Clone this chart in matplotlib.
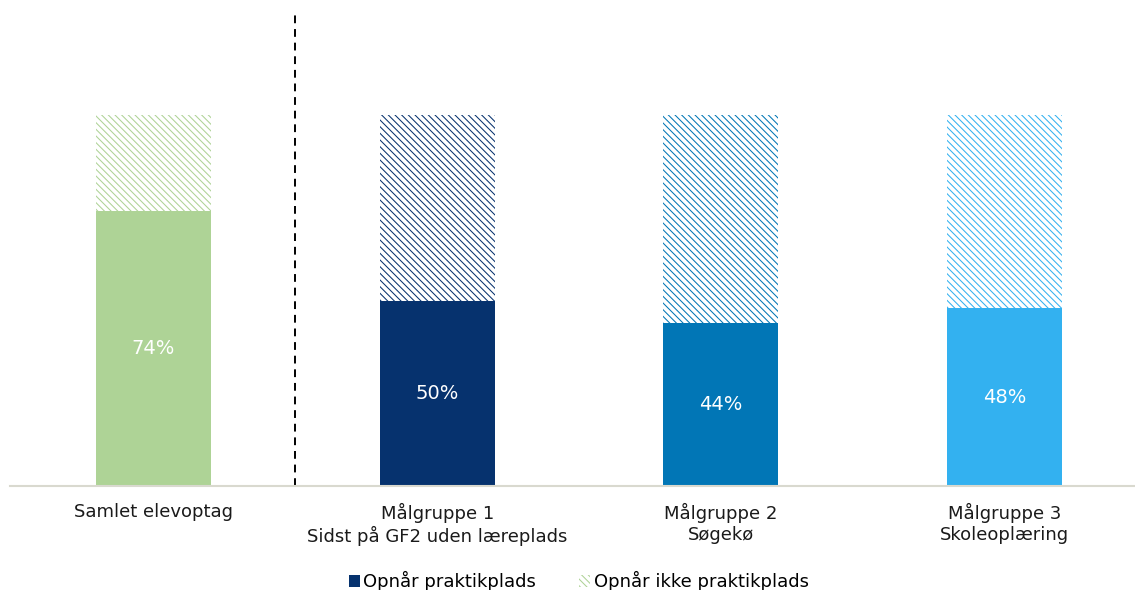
import matplotlib.pyplot as plt
from matplotlib.patches import Patch
import numpy as np

# Data
categories = ['Samlet elevoptag',
              'Målgruppe 1\nSidst på GF2 uden læreplads',
              'Målgruppe 2\nSøgekø',
              'Målgruppe 3\nSkoleoplæring']
opnaar = [0.74, 0.50, 0.44, 0.48]
ikke_opnaar = [0.26, 0.50, 0.56, 0.52]
colors = ['#AED396', '#06326E', '#0176B6', '#33B1F0']

plt.rcParams['font.family'] = ['DejaVu Sans']
plt.rcParams['hatch.linewidth'] = 0.75

hatch = '\\' * 5

fig = plt.figure(figsize=(11.35, 5.9), dpi=100)
ax = fig.add_axes([0.009, 0.176, 0.991, 0.799])

x = np.arange(len(categories))

# Solid part and hatched remainder
ax.bar(x, opnaar, 0.405, color=colors, linewidth=0)
ax.bar(x, ikke_opnaar, 0.405, bottom=opnaar, facecolor='white',
       edgecolor=colors, hatch=hatch, linewidth=0)

# Percentage labels inside the solid bars
for i in range(len(x)):
    ax.text(x[i], opnaar[i] / 2, f'{opnaar[i] * 100:.0f}%', color='white',
            fontsize=14, ha='center', va='center')

# Dashed divider between total and target groups
ax.axvline(0.5, color='black', linestyle=(0, (4, 3)), linewidth=1.4)

ax.set_xlim(-0.505, 3.46)
ax.set_ylim(0, 1.27)
ax.set_xticks(x)
ax.set_xticklabels(categories, fontsize=13, color='#1a1a1a')
ax.tick_params(axis='x', length=0, pad=12)
ax.set_yticks([])
for side in ['top', 'left', 'right']:
    ax.spines[side].set_visible(False)
ax.spines['bottom'].set_color('#D9D9CF')
ax.spines['bottom'].set_linewidth(1.5)

handles = [Patch(facecolor='#06326E', linewidth=0),
           Patch(facecolor='white', edgecolor='#AED396', hatch=hatch, linewidth=0)]
fig.legend(handles, ['Opnår praktikplads', 'Opnår ikke praktikplads'],
           loc='lower center', bbox_to_anchor=(0.51, -0.03), ncol=2,
           frameon=False, fontsize=13, handlelength=0.6, handleheight=0.6,
           handletextpad=0.2, columnspacing=2.4)

plt.savefig('out.png', dpi=100)
